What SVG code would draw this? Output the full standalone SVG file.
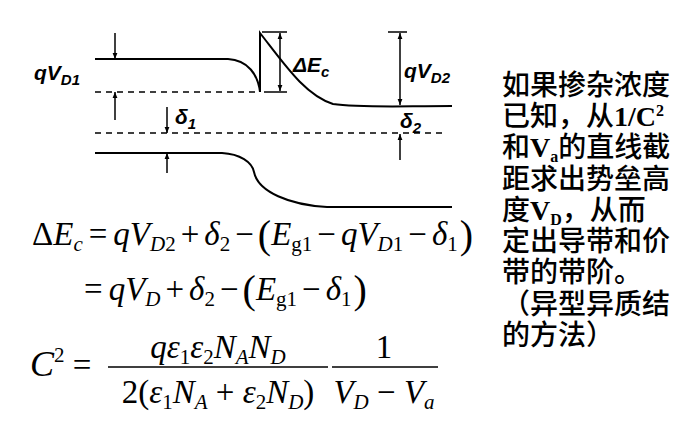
<svg xmlns="http://www.w3.org/2000/svg" width="685" height="432" viewBox="0 0 685 432">
<defs>
<marker id="ah" viewBox="0 0 10 10" refX="10" refY="5" markerWidth="6" markerHeight="6" orient="auto-start-reverse" markerUnits="userSpaceOnUse"><path d="M0,1 L10,5 L0,9 Z" fill="#000"/></marker>
</defs>
<style>
.ln{fill:none;stroke:#000;stroke-width:2}
.dl{fill:none;stroke:#000;stroke-width:1.5;stroke-dasharray:6,5}
.ar{fill:none;stroke:#000;stroke-width:1.5}
.lb{font-family:"Liberation Sans",Arial,sans-serif;font-weight:bold;font-style:italic;font-size:21px}
.eq{font-family:"Liberation Serif","Times New Roman",serif;font-size:33px}
.cn{font-family:"Liberation Sans","Noto Sans CJK SC",sans-serif;font-size:28px;font-weight:500}
.bt{font-family:"Liberation Serif","Times New Roman",serif;font-weight:bold}
</style>
<rect width="685" height="432" fill="#fff"/>
<g id="bands">
<path class="ln" d="M95,59 L228,59 C248,60 258,75 260,92 L260,33 C285,65 305,95 333,104 C360,108 400,106 452,106"/>
<path class="ln" d="M95,153 L222,153 C240,154 252,162 254,172 C258,192 290,205 327,207 L452,207"/>
<path class="dl" d="M95,92 L256,92"/>
<path class="dl" d="M95,133 L447,133"/>
</g>
<g id="connectors">
<path class="ar" d="M115,33 L115,59" marker-end="url(#ah)"/>
<path class="ar" d="M115,120 L115,92" marker-end="url(#ah)"/>
<path class="ar" d="M167,107 L167,133" marker-end="url(#ah)"/>
<path class="ar" d="M167,173 L167,153" marker-end="url(#ah)"/>
<path class="ar" d="M262,32 L287,32 M264,92 L287,92 M388,32 L407,32"/>
<path class="ar" d="M280,33 L280,91" marker-start="url(#ah)" marker-end="url(#ah)"/>
<path class="ar" d="M400,33 L400,105" marker-start="url(#ah)" marker-end="url(#ah)"/>
<path class="ar" d="M400,160 L400,134" marker-end="url(#ah)"/>
</g>
<g id="labels">
<text class="lb" x="34" y="80">qV<tspan font-size="15" dy="5">D1</tspan></text>
<text class="lb" x="293" y="72">ΔE<tspan font-size="15" dy="5">c</tspan></text>
<text class="lb" x="404" y="78">qV<tspan font-size="15" dy="5">D2</tspan></text>
<text class="lb" x="175" y="124">δ<tspan font-size="15" dy="5">1</tspan></text>
<text class="lb" x="400" y="128">δ<tspan font-size="15" dy="5">2</tspan></text>
</g>
<g id="equations" class="eq">
<text x="32" y="245">Δ<tspan font-style="italic">E</tspan><tspan font-style="italic" font-size="21" dy="6">c</tspan><tspan dy="-6" dx="6">=</tspan><tspan font-style="italic" dx="6">qV</tspan><tspan font-style="italic" font-size="21" dy="6">D</tspan><tspan font-size="21">2</tspan><tspan dy="-6" dx="5">+</tspan><tspan font-style="italic" dx="5">δ</tspan><tspan font-size="21" dy="6">2</tspan><tspan dy="-6" dx="5">−</tspan><tspan font-size="40" dy="3" dx="4">(</tspan><tspan font-style="italic" dy="-3">E</tspan><tspan font-size="21" dy="6">g1</tspan><tspan dy="-6" dx="5">−</tspan><tspan font-style="italic" dx="5">qV</tspan><tspan font-style="italic" font-size="21" dy="6">D</tspan><tspan font-size="21">1</tspan><tspan dy="-6" dx="5">−</tspan><tspan font-style="italic" dx="5">δ</tspan><tspan font-size="21" dy="6">1</tspan><tspan font-size="40" dy="-3" dx="2">)</tspan></text>
<text x="84" y="300">=<tspan font-style="italic" dx="6">qV</tspan><tspan font-style="italic" font-size="21" dy="6">D</tspan><tspan dy="-6" dx="5">+</tspan><tspan font-style="italic" dx="5">δ</tspan><tspan font-size="21" dy="6">2</tspan><tspan dy="-6" dx="5">−</tspan><tspan font-size="40" dy="3" dx="4">(</tspan><tspan font-style="italic" dy="-3">E</tspan><tspan font-size="21" dy="6">g1</tspan><tspan dy="-6" dx="5">−</tspan><tspan font-style="italic" dx="5">δ</tspan><tspan font-size="21" dy="6">1</tspan><tspan font-size="40" dy="-3" dx="2">)</tspan></text>
<text x="30" y="376"><tspan font-style="italic" font-size="36">C</tspan><tspan font-size="21" dy="-14">2</tspan><tspan dy="14"> =</tspan></text>
<text x="218" y="358" text-anchor="middle"><tspan font-style="italic">qε</tspan><tspan font-size="21" dy="6">1</tspan><tspan font-style="italic" dy="-6">ε</tspan><tspan font-size="21" dy="6">2</tspan><tspan font-style="italic" dy="-6">N</tspan><tspan font-style="italic" font-size="21" dy="6">A</tspan><tspan font-style="italic" dy="-6">N</tspan><tspan font-style="italic" font-size="21" dy="6">D</tspan></text>
<text x="218" y="403" text-anchor="middle">2(<tspan font-style="italic">ε</tspan><tspan font-size="21" dy="6">1</tspan><tspan font-style="italic" dy="-6">N</tspan><tspan font-style="italic" font-size="21" dy="6">A</tspan><tspan dy="-6"> + </tspan><tspan font-style="italic">ε</tspan><tspan font-size="21" dy="6">2</tspan><tspan font-style="italic" dy="-6">N</tspan><tspan font-style="italic" font-size="21" dy="6">D</tspan><tspan dy="-6">)</tspan></text>
<text x="384" y="358" text-anchor="middle">1</text>
<text x="384" y="403" text-anchor="middle"><tspan font-style="italic">V</tspan><tspan font-style="italic" font-size="21" dy="6">D</tspan><tspan dy="-6"> − </tspan><tspan font-style="italic">V</tspan><tspan font-style="italic" font-size="21" dy="6">a</tspan></text>
<path d="M108,367 L328,367 M332,367 L438,367" stroke="#000" stroke-width="1.5"/>
</g>
<g id="note" class="cn">
<text x="502" y="95">如果掺杂浓度</text>
<text x="502" y="126">已知，从<tspan class="bt">1/C</tspan><tspan class="bt" font-size="16" dy="-10">2</tspan></text>
<text x="502" y="157">和<tspan class="bt">V</tspan><tspan class="bt" font-size="16" dy="5">a</tspan><tspan dy="-5">的直线截</tspan></text>
<text x="502" y="189">距求出势垒高</text>
<text x="502" y="220">度<tspan class="bt">V</tspan><tspan class="bt" font-size="16" dy="5">D</tspan><tspan dy="-5">，从而</tspan></text>
<text x="502" y="251">定出导带和价</text>
<text x="502" y="282">带的带阶。</text>
<text x="502" y="314">（异型异质结</text>
<text x="502" y="345">的方法）</text>
</g>
</svg>
